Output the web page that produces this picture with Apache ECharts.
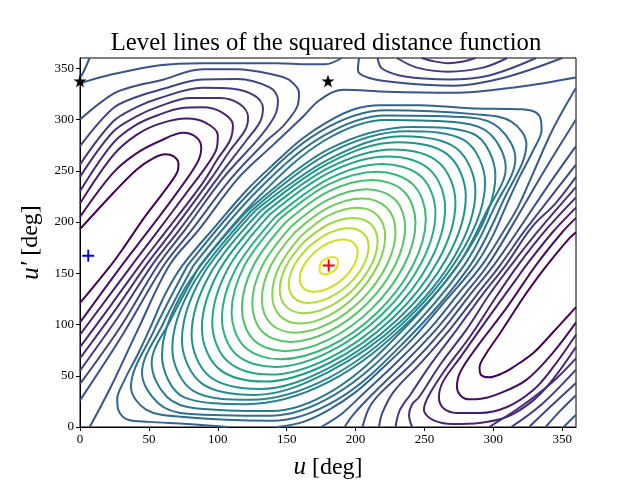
<!DOCTYPE html>
<html lang="en">
<head>
<meta charset="UTF-8">
<title>Level lines</title>
<script src="https://cdn.jsdelivr.net/npm/echarts@6/dist/echarts.min.js"></script>
<style>html,body{margin:0;padding:0;background:#fff}</style>
</head>
<body>
<div id="main" style="width:640px;height:480px;"></div>
<script>
const xTicks = [0, 50, 100, 150, 200, 250, 300, 350];
const yTicks = [0, 50, 100, 150, 200, 250, 300, 350];

// saddle points, and the two crosses
const stars = [[0, 337.5], [180, 337.5]];
const blueCross = [[6, 167]];
const redCross = [[180.5, 157.5]];

// contour lines, [u, u'] - level0 is the lowest level
const level0 = [
  [[360,117],[343,92],[329,72.2],[314,58],[306,52],[297,48.5],[291,51],[290,58],[294,70],[305,91.7],[324,130.7],[339,158],[354,182.4],[360,190]],
  [[0,121],[22.5,158],[30.5,172.7],[47,205],[60,228],[70.4,248],[71.5,257],[68,264],[62,266],[53,262],[41,251],[24,228],[0,193]]
];
const level1 = [
  [[360,102],[343,72],[324,46],[305,33],[291,27.5],[282,27],[276,31],[273.6,39],[276,53.7],[288,78],[310,117],[331,158],[350,190],[360,204]],
  [[0,102],[30.5,158],[50,192],[70,228],[85,257.6],[88,272],[85,282],[75,287],[58,279],[41,267],[24,248],[0,205]]
];
const level2 = [
  [[360,90],[343,57.6],[329,36],[310,19.5],[290,13.7],[273.6,13.7],[264,18],[260.5,29],[263.4,44],[276,68],[295,104],[316,143],[324,158],[343,190],[360,214]],
  [[0,90],[37.7,158],[57,192],[77,228],[92,255],[99.4,273],[100,285],[91,297],[77.6,301],[58,296],[41,285],[24,265],[0,218]]
];
const level3 = [
  [[360,78],[343,46],[329,26],[310,10],[290,4],[270.7,3],[256,7],[249.6,16.6],[252.5,29],[263.4,52.7],[283,88],[303,129],[318,158],[338,192],[360,224]],
  [[0,78],[22,118],[43.5,158],[63,192],[89,238],[99.4,260.5],[109,280],[111,294.6],[103,307],[89,312],[73,311],[58,305],[41,295],[24,277],[0,230]]
];
const level4 = [
  [[297,0],[320,20],[343,44],[360,67]],
  [[241,0],[238.8,11.7],[241,22],[246,29],[262,62],[281,96],[297,129],[313,158],[333,192],[360,234]],
  [[248,360],[256,357],[267,355],[278,356.6],[287,360]],
  [[0,67],[25,113],[48,158],[67.5,192],[95.5,243],[109,270],[120,290],[122,302.4],[116,315],[101.6,321],[80,321],[58,313],[41,303],[24,288],[0,244]]
];
const level5 = [
  [[313,0],[335,22],[360,56]],
  [[229,0],[232,16],[240,32],[255,62],[274,96],[292,129],[309,158],[328,195],[345,218],[360,244]],
  [[230,360],[244.6,350.6],[267,346.7],[292.5,350.6],[310,360]],
  [[0,55],[28,108],[52.3,158],[72,192],[100,243],[121,280],[130.6,297.6],[132.8,311],[127,323],[111,330],[89,331],[58,321],[41,312],[24,298],[0,256]]
];
const level6 = [
  [[326,0],[340,18],[360,43]],
  [[217,0],[219.5,14],[228,35],[247,62],[269,96],[288,129],[305,158],[323,192],[342,225],[360,256]],
  [[216,360],[219,350],[232,343],[250,340],[268,339],[297,343],[331,360]],
  [[0,42],[30,99],[56.6,158],[76,192],[104,243],[130.6,283],[141.5,304],[143.7,319],[138,331],[114,339.5],[89,339],[58,329],[41,322],[24,311],[0,274]]
];
const level7 = [
  [[338,0],[348,15],[360,31]],
  [[205,0],[210,19],[218,33],[241,62],[264,96],[283,129],[300.4,158],[318,192],[340,236],[360,274]],
  [[202.5,360],[201.7,348],[210,340.5],[234,335.6],[271,333],[307,340.5],[350,360]],
  [[0,26],[30,88],[61,158],[81,192],[110,243],[136,280],[147,293],[157.5,312],[159,326],[152,338.5],[143,343],[114,349],[89,349],[58,338],[41,333],[24,325],[0,300]]
];
const level8 = [
  [[351,0],[360,12]],
  [[192,0],[199,13],[213,33],[235,62],[259,96],[279,129],[296,158],[313,195],[337,250],[360,300]],
  [[0,334],[4,337],[20,343],[58,353],[89,355],[143,355],[165,354],[178,354],[190,360]],
  [[7,360],[2,345],[0,341]],
  [[7,0],[22,38],[42,95],[65,158],[86,192],[115,243],[140,275],[162,303],[174,319],[191,329],[223,327],[271,326],[319,332],[360,341]]
];
const level9 = [
  [[175,0],[190,13],[206,33],[229,62],[254,96],[274,129],[291.7,158],[307,190],[318,215],[329,248],[343,290],[360,331]]
];
const level10 = [
  [[107,0],[78,3],[50,5],[35,7],[28,16],[27,27],[32,45],[42,71],[51,97],[62,130],[74,157],[99,197],[121,231],[141,257],[161,281],[180,298],[199,310],[218,314],[247,314],[283,311],[319,310],[329,308],[334,302],[335,290],[329,270],[319,244],[310,218],[299,185],[287,158],[262,118],[240,84],[220,58],[200,34],[181,17],[162,5],[143,0]]
];
const level11 = [[[78,157.5],[125.5,232],[174,288],[222,309],[288,305],[313,298],[324,276],[308,223],[283,157.5],[235.5,83],[187,27],[139,6],[73,10],[48,17],[37,39],[53,92],[78,157.5]]];
const level12 = [[[82.3,157.5],[128,229.5],[176,283.5],[222,304],[283,302],[304,292],[316,262],[301,215],[278.7,157.5],[233,85.5],[185,31.5],[139,11],[78,13],[57,23],[45,52.7],[60,100],[82.3,157.5]]];
const level13 = [[[87,157.5],[131.5,227],[177.5,279.5],[222,299.5],[276,296.8],[298,285.5],[309,252.6],[295,210],[274,157.5],[229.5,88],[183.5,35.5],[139,15.5],[85,18],[63,29.5],[52,62.4],[66,105],[87,157.5]]];
const level14 = [[[120,209],[180.5,271],[241,292.7],[285.3,286.1],[301.5,245.2],[285.3,180.7],[241,106],[180.5,44],[120,22.3],[75.7,28.9],[59.5,69.8],[75.7,134.3],[120,209]]];
const level15 = [[[123.7,210],[180.5,267],[237.3,288.5],[278.8,279.8],[294,238.3],[278.8,175.1],[237.3,105],[180.5,48],[123.7,26.5],[82.2,35.2],[67,76.7],[82.2,139.9],[123.7,210]]];
const level16 = [[[127.2,210.9],[180.5,261.2],[233.8,283.7],[272.7,272.4],[287,230.2],[272.7,168.6],[233.8,104.1],[180.5,53.8],[127.2,31.3],[88.3,42.6],[74,84.8],[88.3,146.4],[127.2,210.9]]];
const level17 = [[[130.7,210.4],[180.5,257.5],[230.3,277.9],[266.7,266],[280,225],[266.7,165.9],[230.3,104.6],[180.5,57.5],[130.7,37.1],[94.3,49],[81,90],[94.3,149.1],[130.7,210.4]]];
const level18 = [[[134.5,209.4],[180.5,252.8],[226.5,270.7],[260.2,258.3],[272.5,218.8],[260.2,162.9],[226.5,105.6],[180.5,62.2],[134.5,44.3],[100.8,56.7],[88.5,96.2],[100.8,152.1],[134.5,209.4]]];
const level19 = [[[138.2,207.9],[180.5,248],[222.8,263.9],[253.7,251.2],[265,213.5],[253.7,160.7],[222.8,107.1],[180.5,67],[138.2,51.1],[107.3,63.8],[96,101.5],[107.3,154.3],[138.2,207.9]]];
const level20 = [[[141.7,205],[180.5,242],[219.3,256.5],[247.6,244.3],[258,209],[247.6,159.8],[219.3,110],[180.5,73],[141.7,58.5],[113.4,70.7],[103,106],[113.4,155.2],[141.7,205]]];
const level21 = [[[145.2,203.3],[180.5,236.7],[215.8,249],[241.6,236.7],[251,203.3],[241.6,157.5],[215.8,111.7],[180.5,78.3],[145.2,66],[119.4,78.3],[110,111.7],[119.4,157.5],[145.2,203.3]]];
const level22 = [[[149,199.3],[180.5,229.8],[212,241],[235.1,229.8],[243.5,199.3],[235.1,157.5],[212,115.7],[180.5,85.2],[149,74],[125.9,85.2],[117.5,115.7],[125.9,157.5],[149,199.3]]];
const level23 = [[[152.7,194.8],[180.5,222],[208.3,232],[228.6,222],[236,194.8],[228.6,157.5],[208.3,120.2],[180.5,93],[152.7,83],[132.4,93],[125,120.2],[132.4,157.5],[152.7,194.8]]];
const level24 = [[[156.2,190.3],[180.5,214.2],[204.8,223],[222.5,214.2],[229,190.3],[222.5,157.5],[204.8,124.7],[180.5,100.8],[156.2,92],[138.5,100.8],[132,124.7],[138.5,157.5],[156.2,190.3]]];
const level25 = [[[160,185.8],[180.5,206.4],[201,214],[216,206.4],[221.5,185.8],[216,157.5],[201,129.2],[180.5,108.6],[160,101],[145,108.6],[139.5,129.2],[145,157.5],[160,185.8]]];
const level26 = [[[162.7,180.8],[180.5,197.8],[198.3,204],[211.2,197.8],[216,180.8],[211.2,157.5],[198.3,134.2],[180.5,117.2],[162.7,111],[149.8,117.2],[145,134.2],[149.8,157.5],[162.7,180.8]]];
const level27 = [[[166,175.8],[180.5,189.1],[195,194],[205.6,189.1],[209.5,175.8],[205.6,157.5],[195,139.2],[180.5,125.9],[166,121],[155.4,125.9],[151.5,139.2],[155.4,157.5],[166,175.8]]];
const level28 = [[[170,170.3],[180.5,179.6],[191,183],[198.7,179.6],[201.5,170.3],[198.7,157.5],[191,144.7],[180.5,135.4],[170,132],[162.3,135.4],[159.5,144.7],[162.3,157.5],[170,170.3]]];
const level29 = [[[173.8,154],[175,160.5],[179,164.5],[183.6,165.9],[186.5,164.5],[187.2,161],[186,154.5],[182,150.5],[177.4,149.1],[174.5,150.5],[173.8,154]]];

const levels = [level0, level1, level2, level3, level4, level5, level6, level7, level8, level9,
  level10, level11, level12, level13, level14, level15, level16, level17, level18, level19,
  level20, level21, level22, level23, level24, level25, level26, level27, level28, level29];

// viridis, one colour per level
const viridis = ['#440154','#470e61','#481b6d','#482576','#46307e','#443a83','#414487','#3e4c8a','#3a548c','#365c8d',
  '#32648e','#2f6c8e','#2c738e','#2a7a8e','#27818e','#25888e','#228f8d','#1f968b','#1f9e89','#22a884',
  '#2ab07f','#37b878','#46c06f','#56c667','#6ccd5a','#82d34d','#9bd93c','#b4de2c','#cde11d','#e5e419'];

const serif = '"Liberation Serif", serif';
const starPath = 'path://M50,0 L61.8,36.3 L100,36.3 L69.1,58.8 L80.9,95.1 L50,72.6 L19.1,95.1 L30.9,58.8 L0,36.3 L38.2,36.3 Z';
const plusPath = 'path://M42,0 H58 V42 H100 V58 H58 V100 H42 V58 H0 V42 H42 Z';

let series = [];
levels.forEach((pieces, i) => {
  pieces.forEach(piece => {
    series.push({
      type: 'line',
      data: piece,
      smooth: 0.35,
      symbol: 'none',
      clip: true,
      lineStyle: {color: viridis[i], width: 2},
      silent: true
    });
  });
});
series.push({type: 'scatter', data: stars, symbol: starPath, symbolSize: 13, itemStyle: {color: '#000', opacity: 1}, clip: true, z: 5});
series.push({type: 'scatter', data: blueCross, symbol: plusPath, symbolSize: 12, itemStyle: {color: '#0000ff', opacity: 1}, clip: true, z: 5});
series.push({type: 'scatter', data: redCross, symbol: plusPath, symbolSize: 12, itemStyle: {color: '#ff0000', opacity: 1}, clip: true, z: 5});

function makeAxis(ticks, name, gap) {
  return {
    type: 'value',
    min: 0,
    max: 360,
    name: name,
    nameLocation: 'middle',
    nameGap: gap,
    nameTextStyle: {
      color: '#000',
      fontFamily: serif,
      fontSize: 24,
      rich: {i: {fontStyle: 'italic', fontFamily: serif, fontSize: 25, color: '#000'}}
    },
    splitLine: {show: false},
    axisLine: {show: true, onZero: false, lineStyle: {color: '#000', width: 1}},
    axisTick: {show: true, length: 4, customValues: ticks, lineStyle: {color: '#000', width: 1}},
    axisLabel: {show: true, customValues: ticks, color: '#000', fontFamily: serif, fontSize: 13, margin: 6}
  };
}

const myChart = echarts.init(document.getElementById('main'), null, {renderer: 'canvas'});
myChart.setOption({
  animation: false,
  backgroundColor: '#fff',
  title: {
    text: 'Level lines of the squared distance function',
    left: 321,
    textAlign: 'center',
    top: 26,
    textStyle: {color: '#000', fontFamily: serif, fontSize: 24.7, fontWeight: 'normal'}
  },
  grid: {left: 80, right: 64, top: 58, bottom: 53, outerBoundsMode: 'none', show: true, borderColor: '#000', borderWidth: 1, backgroundColor: 'transparent'},
  xAxis: makeAxis(xTicks, '{i|u} [deg]', 28),
  yAxis: makeAxis(yTicks, "{i|u′} [deg]", 36),
  series: series
});
</script>
</body>
</html>
